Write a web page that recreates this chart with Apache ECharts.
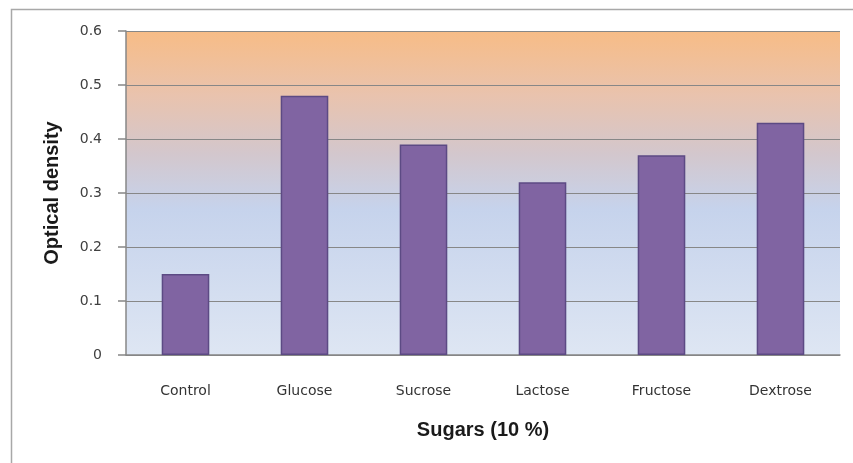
<!DOCTYPE html>
<html>
<head>
<meta charset="utf-8">
<title>Optical density by sugar</title>
<script src="https://cdn.jsdelivr.net/npm/echarts@6/dist/echarts.min.js"></script>
<style>
  html, body { margin: 0; padding: 0; background: #ffffff; }
  #chart { width: 853px; height: 463px; }
</style>
</head>
<body>
<div id="chart"></div>
<script>
// Sugar sources tested at 10 %
const categories = ['Control', 'Glucose', 'Sucrose', 'Lactose', 'Fructose', 'Dextrose'];
// Measured optical density for each sugar
const opticalDensity = [0.15, 0.48, 0.39, 0.32, 0.37, 0.43];
// Value axis range and step
const yMin = 0;
const yMax = 0.6;
const yStep = 0.1;

const chart = echarts.init(document.getElementById('chart'), null, { renderer: 'canvas' });

const axisGrey = '#878787';

chart.setOption({
  animation: false,
  backgroundColor: '#ffffff',
  graphic: [{
    type: 'rect',
    shape: { x: 11.5, y: 9.5, width: 900, height: 500 },
    style: { fill: 'none', stroke: '#a8a8a8', lineWidth: 1.5 },
    silent: true,
    z: -10
  }],
  grid: {
    left: 126,
    right: 13,
    top: 31,
    bottom: 108,
    show: true,
    borderWidth: 0,
    backgroundColor: new echarts.graphic.LinearGradient(0, 0, 0, 1, [
      { offset: 0, color: '#f7bc86' },
      { offset: 0.2, color: '#e9c3ae' },
      { offset: 0.38, color: '#d3c7cd' },
      { offset: 0.55, color: '#c6d3ec' },
      { offset: 1, color: '#dee6f3' }
    ])
  },
  xAxis: {
    type: 'category',
    data: categories,
    name: 'Sugars (10 %)',
    nameLocation: 'middle',
    nameGap: 65,
    nameTextStyle: {
      fontFamily: 'Liberation Sans',
      fontWeight: 'bold',
      fontSize: 20,
      color: '#1a1a1a'
    },
    axisLine: { show: true, lineStyle: { color: axisGrey, width: 1.5 } },
    axisTick: { show: false },
    axisLabel: {
      margin: 29,
      fontFamily: 'DejaVu Sans',
      fontSize: 14,
      color: '#333333'
    },
    splitLine: { show: false }
  },
  yAxis: {
    type: 'value',
    min: yMin,
    max: yMax,
    interval: yStep,
    name: 'Optical density',
    nameLocation: 'middle',
    nameRotate: 90,
    nameGap: 64,
    nameTextStyle: {
      fontFamily: 'Liberation Sans',
      fontWeight: 'bold',
      fontSize: 20,
      color: '#1a1a1a'
    },
    axisLine: { show: true, lineStyle: { color: axisGrey, width: 1.5 } },
    axisTick: { show: true, inside: false, length: 8, lineStyle: { color: axisGrey, width: 1.5 } },
    axisLabel: {
      margin: 24,
      fontFamily: 'DejaVu Sans',
      fontSize: 14,
      color: '#404040',
      formatter: function (v) { return v === 0 ? '0' : v.toFixed(1); }
    },
    splitLine: { show: true, lineStyle: { color: axisGrey, width: 1.2 } }
  },
  series: [{
    type: 'bar',
    data: opticalDensity,
    barWidth: '40%',
    itemStyle: {
      color: '#8064a2',
      borderColor: '#5c4a84',
      borderWidth: 1.5
    }
  }]
});
</script>
</body>
</html>
